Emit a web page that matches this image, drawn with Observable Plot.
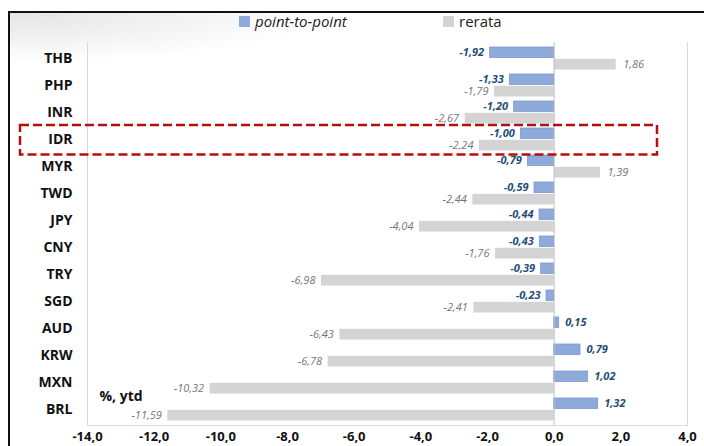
<!DOCTYPE html>
<html><head><meta charset="utf-8">
<script src="https://cdn.jsdelivr.net/npm/d3@7"></script>
<script src="https://cdn.jsdelivr.net/npm/@observablehq/plot@0.6"></script>
<style>
html,body{margin:0;padding:0;background:#fff;width:704px;height:446px;overflow:hidden;font-family:"Open Sans",sans-serif}
#wrap{position:relative;width:704px;height:446px;overflow:hidden}
#border{position:absolute;left:8px;top:11px;width:760px;height:500px;border-top:2px solid #111;border-left:2px solid #111;
 background:radial-gradient(ellipse 320px 50px at 0 0,#e4e4e4 0%,rgba(255,255,255,0) 100%)}
#chart{position:absolute;left:0;top:0}
.lg{position:absolute;font-size:15px;color:#222;line-height:18px;top:12px;white-space:nowrap}
.sw{position:absolute;width:11px;height:11px;top:16px}
</style></head>
<body><div id="wrap"><div id="border"></div><div id="chart"></div><div id="legend"></div></div>
<script>
const categories = ["THB","PHP","INR","IDR","MYR","TWD","JPY","CNY","TRY","SGD","AUD","KRW","MXN","BRL"];
const pointToPoint = [-1.92,-1.33,-1.20,-1.00,-0.79,-0.59,-0.44,-0.43,-0.39,-0.23,0.15,0.79,1.02,1.32];
const rerata = [1.86,-1.79,-2.67,-2.24,1.39,-2.44,-4.04,-1.76,-6.98,-2.41,-6.43,-6.78,-10.32,-11.59];
const xTicks = [-14,-12,-10,-8,-6,-4,-2,0,2,4];
const seriesNames = ["point-to-point","rerata"];
const seriesColors = ["#8eaadb","#d4d4d4"];
const highlight = "IDR";
const unitNote = "%, ytd";

const loc = d3.formatLocale({decimal:",",thousands:".",grouping:[3],currency:["",""],minus:"-"});
const fmt2 = loc.format(".2f");
const fmt1 = loc.format(".1f");

const rows = categories.map((c,i)=>({cat:c,p:pointToPoint[i],r:rerata[i]}));
const pos = k => rows.filter(d=>d[k]>=0);
const neg = k => rows.filter(d=>d[k]<0);

const blueText = {y:"cat",x:"p",text:d=>fmt2(d.p),fill:"#1f4e79",fontWeight:"bold",fontStyle:"italic",fontSize:11,dy:-6.3};
const grayText = {y:"cat",x:"r",text:d=>fmt2(d.r),fill:"#767676",fontStyle:"italic",fontSize:11,dy:5.8};

const chart = Plot.plot({
  width:704, height:446,
  marginLeft:87, marginRight:17, marginTop:42, marginBottom:21,
  x:{domain:[xTicks[0],xTicks[xTicks.length-1]], label:null},
  y:{domain:categories, padding:0, label:null},
  style:{fontFamily:"Open Sans", background:"transparent", overflow:"visible", color:"#000"},
  marks:[
    Plot.ruleX([xTicks[0],xTicks[xTicks.length-1]],{stroke:"#d9d9d9"}),
    Plot.frame({anchor:"bottom",stroke:"#d9d9d9"}),
    Plot.barX(rows,{y:"cat",x:"p",fill:seriesColors[0],stroke:"#7d99cc",strokeWidth:0.8,insetTop:2,insetBottom:14.5}),
    Plot.barX(rows,{y:"cat",x:"r",fill:seriesColors[1],insetTop:13.8,insetBottom:2.5}),
    Plot.ruleX([0],{stroke:"#bfbfbf"}),
    Plot.text(neg("p"),{...blueText,textAnchor:"end",dx:-6}),
    Plot.text(pos("p"),{...blueText,textAnchor:"start",dx:6}),
    Plot.text(neg("r"),{...grayText,textAnchor:"end",dx:-6}),
    Plot.text(pos("r"),{...grayText,textAnchor:"start",dx:7}),
    Plot.text([unitNote],{x:xTicks[0],y:()=>categories[categories.length-1],text:d=>d,textAnchor:"start",dx:12,dy:-13,fontWeight:"bold",fontSize:14,fill:"#111"}),
    Plot.barX([highlight],{y:d=>d,x1:xTicks[0],x2:xTicks[xTicks.length-1],insetLeft:-67,insetRight:30,insetTop:-1,insetBottom:-1.5,fill:"none",stroke:"#b40f0f",strokeWidth:2.5,strokeDasharray:"9,4"}),
    Plot.axisY({tickSize:0,tickPadding:15,fontSize:14,fontWeight:"bold",fill:"#111",label:null}),
    Plot.axisX({ticks:xTicks,tickFormat:fmt1,tickSize:0,tickPadding:6,fontSize:13,fontWeight:"bold",fill:"#111",label:null})
  ]
});
document.getElementById("chart").appendChild(chart);

const lg = document.getElementById("legend");
const legendPos = [{sw:239,tx:255,italic:true},{sw:443,tx:459,italic:false}];
seriesNames.forEach((n,i)=>{
  const s=document.createElement("div");s.className="sw";s.style.left=legendPos[i].sw+"px";s.style.background=seriesColors[i];
  lg.appendChild(s);
  const t=document.createElement("div");t.className="lg";t.style.left=legendPos[i].tx+"px";t.textContent=n;
  if(legendPos[i].italic) t.style.fontStyle="italic";
  lg.appendChild(t);
});
</script></body></html>
